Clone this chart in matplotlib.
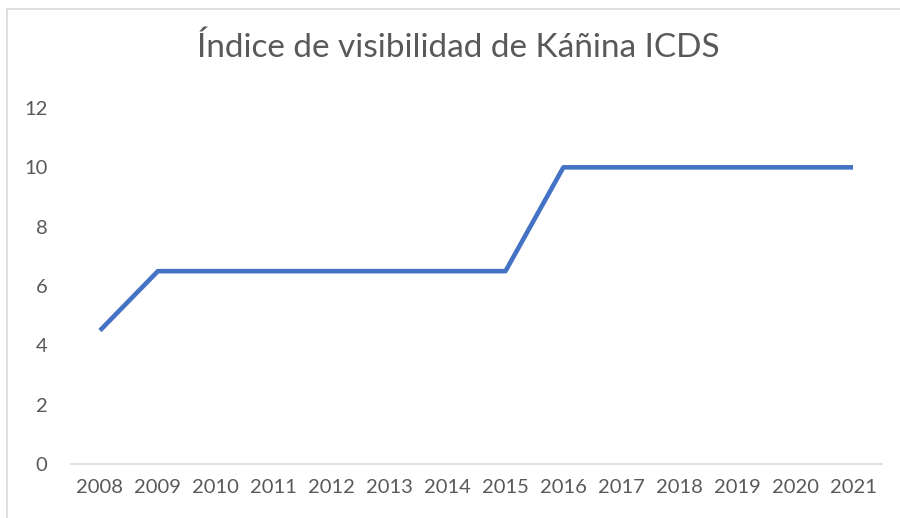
import matplotlib.pyplot as plt
from matplotlib.lines import Line2D

years = ["2008", "2009", "2010", "2011", "2012", "2013", "2014",
         "2015", "2016", "2017", "2018", "2019", "2020", "2021"]
values = [4.5, 6.5, 6.5, 6.5, 6.5, 6.5, 6.5, 6.5, 10, 10, 10, 10, 10, 10]
y_ticks = [0, 2, 4, 6, 8, 10, 12]

plt.rcParams["font.family"] = ["Lato", "DejaVu Sans"]

fig = plt.figure(figsize=(9, 5.18), dpi=100)
ax = fig.add_axes([71 / 900, 1 - 464 / 518, (882 - 71) / 900, (464 - 108) / 518])

x = list(range(len(years)))
ax.plot(x, values, color="#4472C4", linewidth=3.3, solid_capstyle="butt")

ax.set_xlim(-0.5, len(years) - 0.5)
ax.set_ylim(0, 12)
ax.set_xticks(x)
ax.set_xticklabels(years)
ax.set_yticks(y_ticks)
ax.tick_params(axis="both", length=0, labelsize=14.5, labelcolor="#595959")
ax.tick_params(axis="x", pad=11)
ax.tick_params(axis="y", pad=17)

for side in ["top", "right", "left"]:
    ax.spines[side].set_visible(False)
ax.spines["bottom"].set_color("#D9D9D9")
ax.spines["bottom"].set_linewidth(1.2)

fig.text(458 / 900, 1 - 48 / 518, "Índice de visibilidad de Káñina ICDS",
         ha="center", va="center", fontsize=24, color="#595959")

# chart frame (only left and top edges visible)
fig.add_artist(Line2D([7 / 900, 7 / 900], [0, 1 - 9 / 518], color="#D9D9D9", lw=1.2))
fig.add_artist(Line2D([7 / 900, 1], [1 - 9 / 518, 1 - 9 / 518], color="#D9D9D9", lw=1.2))

fig.savefig("out.png", dpi=100)
